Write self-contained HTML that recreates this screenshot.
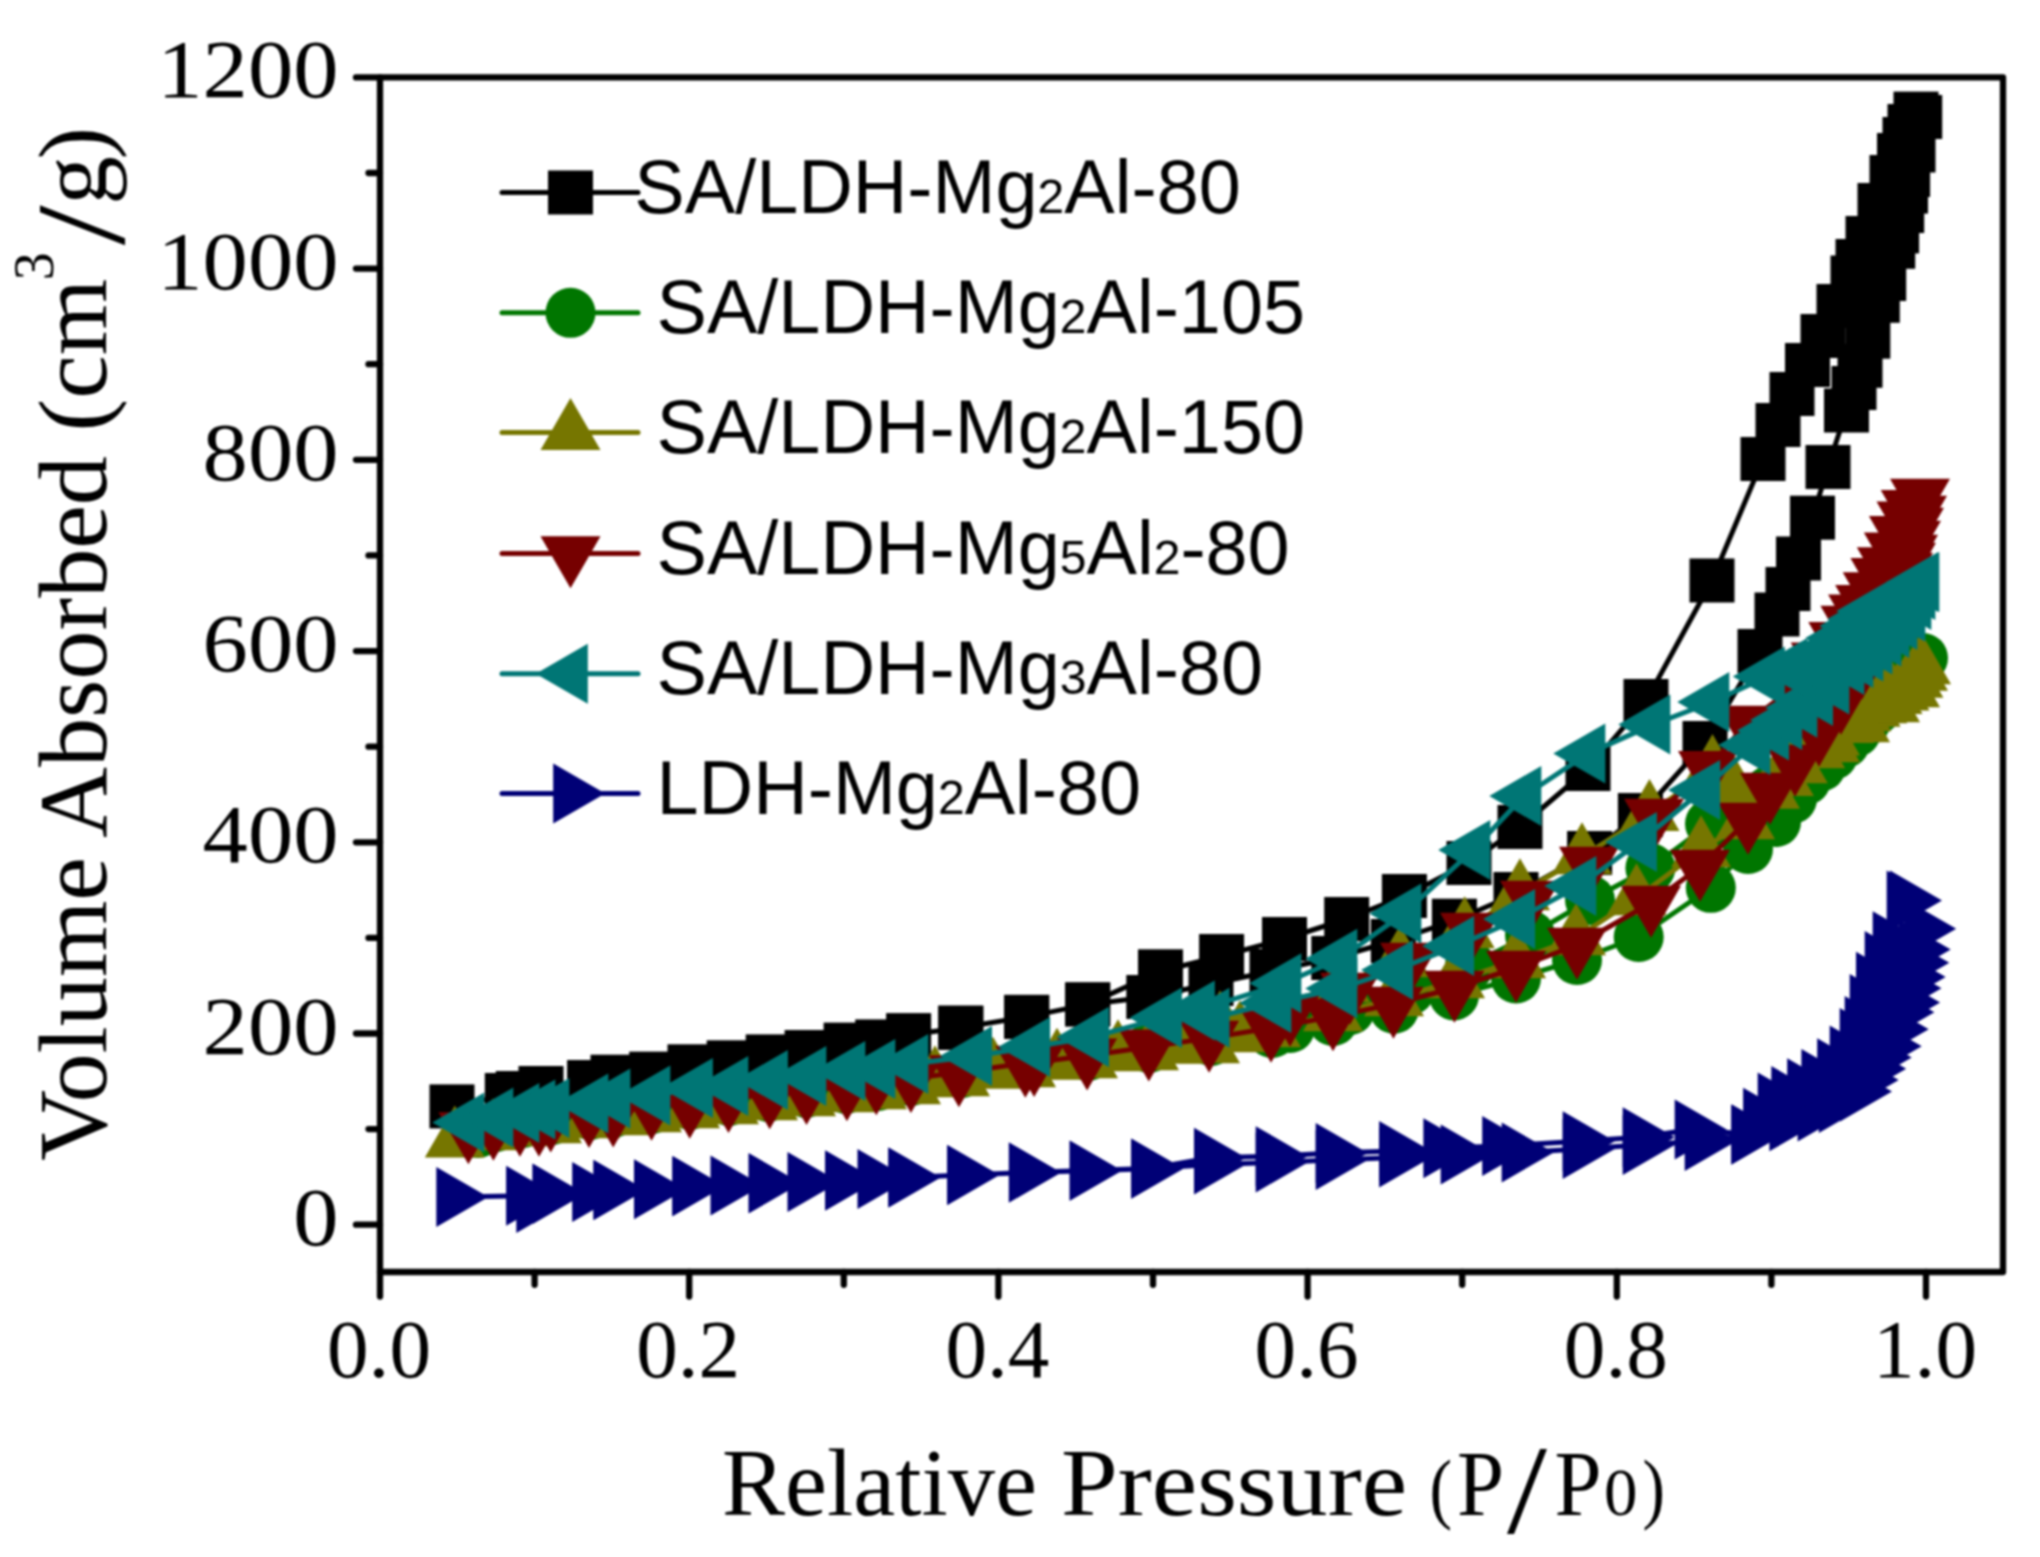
<!DOCTYPE html><html><head><meta charset="utf-8"><title>Isotherms</title><style>html,body{margin:0;padding:0;background:#fff;overflow:hidden}svg{display:block}body>div{filter:blur(1px)}</style></head><body>
<div><svg width="2040" height="1557" viewBox="0 0 2040 1557">
<rect width="2040" height="1557" fill="#fff"/>
<path d="M452 1106.4 L507.3 1095 L518.3 1093 L541 1088 L589.6 1082 L613 1076.7 L651.7 1073.6 L690 1066.3 L729.2 1062.3 L768.2 1056.4 L807.1 1052 L846.1 1044.6 L877.7 1041.4 L908.6 1035.1 L960.8 1027.7 L1026.7 1016.9 L1087.7 1004.4 L1148.8 997 L1211 984 L1272 971 L1333.8 958 L1393.3 941 L1454.4 920.7 L1516 894 L1589.6 853 L1640.4 815 L1705 743 L1760 651 L1777 614.5 L1788 589 L1798.5 558.5 L1812.5 517.7 L1828 467 L1846.5 410.5 L1854 388 L1860 365.8 L1867.8 336.7 L1877.3 300.8 L1883.7 279 L1892.7 246.8 L1896.6 231.4 L1901.7 211 L1905.5 191.6 L1907.6 175 L1913 150.5 L1919.7 117 L1916 113.6 L1910 126 L1905 139 L1899.5 155 L1892 177 L1880 205 L1868 238 L1858 261 L1853 277.5 L1839 306 L1823 336 L1807.5 365 L1792 394 L1778 425 L1763 459 L1712 580.5 L1646 701 L1588 769 L1520 827 L1469 863 L1404.4 896 L1346.7 919 L1284.5 939 L1221.6 956 L1160.5 971.3 L1087.7 1004.4 L1026.7 1016.9 L960.8 1027.7" fill="none" stroke="#000000" stroke-width="5" stroke-linejoin="round" stroke-linecap="round"/>
<g fill="#000000">
<rect x="429.5" y="1084.4" width="45" height="44"/>
<rect x="484.8" y="1073" width="45" height="44"/>
<rect x="495.8" y="1071" width="45" height="44"/>
<rect x="518.5" y="1066" width="45" height="44"/>
<rect x="567.1" y="1060" width="45" height="44"/>
<rect x="590.5" y="1054.7" width="45" height="44"/>
<rect x="629.2" y="1051.6" width="45" height="44"/>
<rect x="667.5" y="1044.3" width="45" height="44"/>
<rect x="706.7" y="1040.3" width="45" height="44"/>
<rect x="745.7" y="1034.4" width="45" height="44"/>
<rect x="784.6" y="1030" width="45" height="44"/>
<rect x="823.6" y="1022.6" width="45" height="44"/>
<rect x="855.2" y="1019.4" width="45" height="44"/>
<rect x="886.1" y="1013.1" width="45" height="44"/>
<rect x="938.3" y="1005.7" width="45" height="44"/>
<rect x="1004.2" y="994.9" width="45" height="44"/>
<rect x="1065.2" y="982.4" width="45" height="44"/>
<rect x="1126.3" y="975" width="45" height="44"/>
<rect x="1188.5" y="962" width="45" height="44"/>
<rect x="1249.5" y="949" width="45" height="44"/>
<rect x="1311.3" y="936" width="45" height="44"/>
<rect x="1370.8" y="919" width="45" height="44"/>
<rect x="1431.9" y="898.7" width="45" height="44"/>
<rect x="1493.5" y="872" width="45" height="44"/>
<rect x="1567.1" y="831" width="45" height="44"/>
<rect x="1617.9" y="793" width="45" height="44"/>
<rect x="1682.5" y="721" width="45" height="44"/>
<rect x="1737.5" y="629" width="45" height="44"/>
<rect x="1754.5" y="592.5" width="45" height="44"/>
<rect x="1765.5" y="567" width="45" height="44"/>
<rect x="1776" y="536.5" width="45" height="44"/>
<rect x="1790" y="495.7" width="45" height="44"/>
<rect x="1805.5" y="445" width="45" height="44"/>
<rect x="1824" y="388.5" width="45" height="44"/>
<rect x="1831.5" y="366" width="45" height="44"/>
<rect x="1837.5" y="343.8" width="45" height="44"/>
<rect x="1845.3" y="314.7" width="45" height="44"/>
<rect x="1854.8" y="278.8" width="45" height="44"/>
<rect x="1861.2" y="257" width="45" height="44"/>
<rect x="1870.2" y="224.8" width="45" height="44"/>
<rect x="1874.1" y="209.4" width="45" height="44"/>
<rect x="1879.2" y="189" width="45" height="44"/>
<rect x="1883" y="169.6" width="45" height="44"/>
<rect x="1885.1" y="153" width="45" height="44"/>
<rect x="1890.5" y="128.5" width="45" height="44"/>
<rect x="1897.2" y="95" width="45" height="44"/>
<rect x="1893.5" y="91.6" width="45" height="44"/>
<rect x="1887.5" y="104" width="45" height="44"/>
<rect x="1882.5" y="117" width="45" height="44"/>
<rect x="1877" y="133" width="45" height="44"/>
<rect x="1869.5" y="155" width="45" height="44"/>
<rect x="1857.5" y="183" width="45" height="44"/>
<rect x="1845.5" y="216" width="45" height="44"/>
<rect x="1835.5" y="239" width="45" height="44"/>
<rect x="1830.5" y="255.5" width="45" height="44"/>
<rect x="1816.5" y="284" width="45" height="44"/>
<rect x="1800.5" y="314" width="45" height="44"/>
<rect x="1785" y="343" width="45" height="44"/>
<rect x="1769.5" y="372" width="45" height="44"/>
<rect x="1755.5" y="403" width="45" height="44"/>
<rect x="1740.5" y="437" width="45" height="44"/>
<rect x="1689.5" y="558.5" width="45" height="44"/>
<rect x="1623.5" y="679" width="45" height="44"/>
<rect x="1565.5" y="747" width="45" height="44"/>
<rect x="1497.5" y="805" width="45" height="44"/>
<rect x="1446.5" y="841" width="45" height="44"/>
<rect x="1381.9" y="874" width="45" height="44"/>
<rect x="1324.2" y="897" width="45" height="44"/>
<rect x="1262" y="917" width="45" height="44"/>
<rect x="1199.1" y="934" width="45" height="44"/>
<rect x="1138" y="949.3" width="45" height="44"/>
<rect x="1065.2" y="982.4" width="45" height="44"/>
<rect x="1004.2" y="994.9" width="45" height="44"/>
<rect x="938.3" y="1005.7" width="45" height="44"/>
</g>
<path d="M478 1133 L496 1127 L523 1123 L552 1120 L590 1115 L613 1113 L652 1109 L690 1105 L729 1101 L768 1097 L806 1093 L846 1089 L878 1086 L911 1081 L962 1073 L1026 1064 L1088 1056 L1149 1048 L1211 1041 L1272 1033 L1333 1021 L1394 1008.7 L1454 995.4 L1516 978.5 L1577 960 L1638.7 937 L1710.8 887.8 L1748 849 L1776 822 L1792 799 L1806 780 L1821 766.5 L1833 755 L1845 743 L1856 732 L1866 721 L1876 710 L1886 699 L1896 688 L1905 678 L1913 669 L1923 658 L1900 675 L1870 700 L1840 725 L1800 760 L1770 790 L1710 823.8 L1650.4 868 L1590 900 L1530 935 L1470 965 L1410 990 L1350 1010 L1290 1028" fill="none" stroke="#007600" stroke-width="5" stroke-linejoin="round" stroke-linecap="round"/>
<g fill="#007600">
<circle cx="478" cy="1133" r="25"/>
<circle cx="496" cy="1127" r="25"/>
<circle cx="523" cy="1123" r="25"/>
<circle cx="552" cy="1120" r="25"/>
<circle cx="590" cy="1115" r="25"/>
<circle cx="613" cy="1113" r="25"/>
<circle cx="652" cy="1109" r="25"/>
<circle cx="690" cy="1105" r="25"/>
<circle cx="729" cy="1101" r="25"/>
<circle cx="768" cy="1097" r="25"/>
<circle cx="806" cy="1093" r="25"/>
<circle cx="846" cy="1089" r="25"/>
<circle cx="878" cy="1086" r="25"/>
<circle cx="911" cy="1081" r="25"/>
<circle cx="962" cy="1073" r="25"/>
<circle cx="1026" cy="1064" r="25"/>
<circle cx="1088" cy="1056" r="25"/>
<circle cx="1149" cy="1048" r="25"/>
<circle cx="1211" cy="1041" r="25"/>
<circle cx="1272" cy="1033" r="25"/>
<circle cx="1333" cy="1021" r="25"/>
<circle cx="1394" cy="1008.7" r="25"/>
<circle cx="1454" cy="995.4" r="25"/>
<circle cx="1516" cy="978.5" r="25"/>
<circle cx="1577" cy="960" r="25"/>
<circle cx="1638.7" cy="937" r="25"/>
<circle cx="1710.8" cy="887.8" r="25"/>
<circle cx="1748" cy="849" r="25"/>
<circle cx="1776" cy="822" r="25"/>
<circle cx="1792" cy="799" r="25"/>
<circle cx="1806" cy="780" r="25"/>
<circle cx="1821" cy="766.5" r="25"/>
<circle cx="1833" cy="755" r="25"/>
<circle cx="1845" cy="743" r="25"/>
<circle cx="1856" cy="732" r="25"/>
<circle cx="1866" cy="721" r="25"/>
<circle cx="1876" cy="710" r="25"/>
<circle cx="1886" cy="699" r="25"/>
<circle cx="1896" cy="688" r="25"/>
<circle cx="1905" cy="678" r="25"/>
<circle cx="1913" cy="669" r="25"/>
<circle cx="1923" cy="658" r="25"/>
<circle cx="1900" cy="675" r="25"/>
<circle cx="1870" cy="700" r="25"/>
<circle cx="1840" cy="725" r="25"/>
<circle cx="1800" cy="760" r="25"/>
<circle cx="1770" cy="790" r="25"/>
<circle cx="1710" cy="823.8" r="25"/>
<circle cx="1650.4" cy="868" r="25"/>
<circle cx="1590" cy="900" r="25"/>
<circle cx="1530" cy="935" r="25"/>
<circle cx="1470" cy="965" r="25"/>
<circle cx="1410" cy="990" r="25"/>
<circle cx="1350" cy="1010" r="25"/>
<circle cx="1290" cy="1028" r="25"/>
</g>
<path d="M454.8 1140.3 L493 1133 L520 1129 L552 1126 L590 1121 L620 1118 L652 1115 L690 1111 L729 1107 L768 1103 L806 1099 L846 1095 L877 1092 L911 1087 L960 1079 L1026 1070 L1088 1061 L1149 1053 L1210 1046 L1271 1030 L1333 1014 L1394 999 L1455 981 L1516 961 L1576 938 L1636.5 898 L1701 850 L1745 822 L1770 791.4 L1783.9 778.7 L1797.8 766 L1815.1 751 L1830.1 738.3 L1844 725.6 L1852.1 721 L1861.3 714 L1870.6 709.4 L1877.3 705.9 L1885.6 701.3 L1892.5 696.7 L1899.5 693.2 L1906.4 687.4 L1913.4 680.5 L1918 673.5 L1921 667 L1910 690 L1890 705 L1860 725 L1830 745 L1790 760 L1733.8 790 L1712.5 768.8 L1649.5 813.7 L1582 857 L1520 893 L1464.7 931 L1400 960 L1340 985 L1280 1005 L1220 1025 L1240 1035 L1180 1046.5 L1118 1054 L1057 1062.5 L993 1071.5 L935 1080" fill="none" stroke="#767600" stroke-width="5" stroke-linejoin="round" stroke-linecap="round"/>
<g fill="#767600">
<path d="M454.8 1105.6L484.8 1157.6L424.8 1157.6Z"/>
<path d="M493 1098.3L523 1150.3L463 1150.3Z"/>
<path d="M520 1094.3L550 1146.3L490 1146.3Z"/>
<path d="M552 1091.3L582 1143.3L522 1143.3Z"/>
<path d="M590 1086.3L620 1138.3L560 1138.3Z"/>
<path d="M620 1083.3L650 1135.3L590 1135.3Z"/>
<path d="M652 1080.3L682 1132.3L622 1132.3Z"/>
<path d="M690 1076.3L720 1128.3L660 1128.3Z"/>
<path d="M729 1072.3L759 1124.3L699 1124.3Z"/>
<path d="M768 1068.3L798 1120.3L738 1120.3Z"/>
<path d="M806 1064.3L836 1116.3L776 1116.3Z"/>
<path d="M846 1060.3L876 1112.3L816 1112.3Z"/>
<path d="M877 1057.3L907 1109.3L847 1109.3Z"/>
<path d="M911 1052.3L941 1104.3L881 1104.3Z"/>
<path d="M960 1044.3L990 1096.3L930 1096.3Z"/>
<path d="M1026 1035.3L1056 1087.3L996 1087.3Z"/>
<path d="M1088 1026.3L1118 1078.3L1058 1078.3Z"/>
<path d="M1149 1018.3L1179 1070.3L1119 1070.3Z"/>
<path d="M1210 1011.3L1240 1063.3L1180 1063.3Z"/>
<path d="M1271 995.3L1301 1047.3L1241 1047.3Z"/>
<path d="M1333 979.3L1363 1031.3L1303 1031.3Z"/>
<path d="M1394 964.3L1424 1016.3L1364 1016.3Z"/>
<path d="M1455 946.3L1485 998.3L1425 998.3Z"/>
<path d="M1516 926.3L1546 978.3L1486 978.3Z"/>
<path d="M1576 903.3L1606 955.3L1546 955.3Z"/>
<path d="M1636.5 863.3L1666.5 915.3L1606.5 915.3Z"/>
<path d="M1701 815.3L1731 867.3L1671 867.3Z"/>
<path d="M1745 787.3L1775 839.3L1715 839.3Z"/>
<path d="M1770 756.7L1800 808.7L1740 808.7Z"/>
<path d="M1783.9 744L1813.9 796L1753.9 796Z"/>
<path d="M1797.8 731.3L1827.8 783.3L1767.8 783.3Z"/>
<path d="M1815.1 716.3L1845.1 768.3L1785.1 768.3Z"/>
<path d="M1830.1 703.6L1860.1 755.6L1800.1 755.6Z"/>
<path d="M1844 690.9L1874 742.9L1814 742.9Z"/>
<path d="M1852.1 686.3L1882.1 738.3L1822.1 738.3Z"/>
<path d="M1861.3 679.3L1891.3 731.3L1831.3 731.3Z"/>
<path d="M1870.6 674.7L1900.6 726.7L1840.6 726.7Z"/>
<path d="M1877.3 671.2L1907.3 723.2L1847.3 723.2Z"/>
<path d="M1885.6 666.6L1915.6 718.6L1855.6 718.6Z"/>
<path d="M1892.5 662L1922.5 714L1862.5 714Z"/>
<path d="M1899.5 658.5L1929.5 710.5L1869.5 710.5Z"/>
<path d="M1906.4 652.7L1936.4 704.7L1876.4 704.7Z"/>
<path d="M1913.4 645.8L1943.4 697.8L1883.4 697.8Z"/>
<path d="M1918 638.8L1948 690.8L1888 690.8Z"/>
<path d="M1921 632.3L1951 684.3L1891 684.3Z"/>
<path d="M1910 655.3L1940 707.3L1880 707.3Z"/>
<path d="M1890 670.3L1920 722.3L1860 722.3Z"/>
<path d="M1860 690.3L1890 742.3L1830 742.3Z"/>
<path d="M1830 710.3L1860 762.3L1800 762.3Z"/>
<path d="M1790 725.3L1820 777.3L1760 777.3Z"/>
<path d="M1733.8 755.3L1763.8 807.3L1703.8 807.3Z"/>
<path d="M1712.5 734.1L1742.5 786.1L1682.5 786.1Z"/>
<path d="M1649.5 779L1679.5 831L1619.5 831Z"/>
<path d="M1582 822.3L1612 874.3L1552 874.3Z"/>
<path d="M1520 858.3L1550 910.3L1490 910.3Z"/>
<path d="M1464.7 896.3L1494.7 948.3L1434.7 948.3Z"/>
<path d="M1400 925.3L1430 977.3L1370 977.3Z"/>
<path d="M1340 950.3L1370 1002.3L1310 1002.3Z"/>
<path d="M1280 970.3L1310 1022.3L1250 1022.3Z"/>
<path d="M1220 990.3L1250 1042.3L1190 1042.3Z"/>
<path d="M1240 1000.3L1270 1052.3L1210 1052.3Z"/>
<path d="M1180 1011.8L1210 1063.8L1150 1063.8Z"/>
<path d="M1118 1019.3L1148 1071.3L1088 1071.3Z"/>
<path d="M1057 1027.8L1087 1079.8L1027 1079.8Z"/>
<path d="M993 1036.8L1023 1088.8L963 1088.8Z"/>
<path d="M935 1045.3L965 1097.3L905 1097.3Z"/>
</g>
<path d="M468.4 1129.6 L493.4 1126 L519.9 1122 L539 1122 L550.7 1117.8 L589 1113.3 L613.2 1112.7 L651.5 1106 L689.7 1104 L728.5 1098.2 L769.7 1094.6 L806.5 1090.2 L846.9 1086.5 L876.3 1080.6 L910.9 1078.4 L958.9 1072.6 L1025.3 1063.1 L1034.1 1062.4 L1087.1 1055.7 L1148.8 1046.9 L1209.1 1038.1 L1271 1028 L1333 1016.6 L1393.4 1004 L1454.4 988 L1516 968 L1577 945 L1651 903 L1700 867 L1748 820 L1770 790 L1795 762 L1819 732 L1841 700 L1862 665 L1872 645 L1881 630 L1890 612 L1896 595 L1900 582 L1903 570 L1906 560 L1908 552 L1911 538 L1914 525 L1917 513 L1920 496 L1910.7 507.3 L1906.5 518.7 L1898.9 533.4 L1893.8 549.9 L1886.8 564.6 L1880.4 575.4 L1872.7 589.5 L1865.1 602.2 L1858.1 611.7 L1850.4 623.1 L1838.3 639.2 L1820.7 659.7 L1790 690 L1747 723 L1708 768.3 L1654 816 L1589 864 L1530 898 L1470 930 L1410 960 L1350 990 L1290 1012" fill="none" stroke="#760000" stroke-width="5" stroke-linejoin="round" stroke-linecap="round"/>
<g fill="#760000">
<path d="M468.4 1164.3L498.4 1112.3L438.4 1112.3Z"/>
<path d="M493.4 1160.7L523.4 1108.7L463.4 1108.7Z"/>
<path d="M519.9 1156.7L549.9 1104.7L489.9 1104.7Z"/>
<path d="M539 1156.7L569 1104.7L509 1104.7Z"/>
<path d="M550.7 1152.5L580.7 1100.5L520.7 1100.5Z"/>
<path d="M589 1148L619 1096L559 1096Z"/>
<path d="M613.2 1147.4L643.2 1095.4L583.2 1095.4Z"/>
<path d="M651.5 1140.7L681.5 1088.7L621.5 1088.7Z"/>
<path d="M689.7 1138.7L719.7 1086.7L659.7 1086.7Z"/>
<path d="M728.5 1132.9L758.5 1080.9L698.5 1080.9Z"/>
<path d="M769.7 1129.3L799.7 1077.3L739.7 1077.3Z"/>
<path d="M806.5 1124.9L836.5 1072.9L776.5 1072.9Z"/>
<path d="M846.9 1121.2L876.9 1069.2L816.9 1069.2Z"/>
<path d="M876.3 1115.3L906.3 1063.3L846.3 1063.3Z"/>
<path d="M910.9 1113.1L940.9 1061.1L880.9 1061.1Z"/>
<path d="M958.9 1107.3L988.9 1055.3L928.9 1055.3Z"/>
<path d="M1025.3 1097.8L1055.3 1045.8L995.3 1045.8Z"/>
<path d="M1034.1 1097.1L1064.1 1045.1L1004.1 1045.1Z"/>
<path d="M1087.1 1090.4L1117.1 1038.4L1057.1 1038.4Z"/>
<path d="M1148.8 1081.6L1178.8 1029.6L1118.8 1029.6Z"/>
<path d="M1209.1 1072.8L1239.1 1020.8L1179.1 1020.8Z"/>
<path d="M1271 1062.7L1301 1010.7L1241 1010.7Z"/>
<path d="M1333 1051.3L1363 999.3L1303 999.3Z"/>
<path d="M1393.4 1038.7L1423.4 986.7L1363.4 986.7Z"/>
<path d="M1454.4 1022.7L1484.4 970.7L1424.4 970.7Z"/>
<path d="M1516 1002.7L1546 950.7L1486 950.7Z"/>
<path d="M1577 979.7L1607 927.7L1547 927.7Z"/>
<path d="M1651 937.7L1681 885.7L1621 885.7Z"/>
<path d="M1700 901.7L1730 849.7L1670 849.7Z"/>
<path d="M1748 854.7L1778 802.7L1718 802.7Z"/>
<path d="M1770 824.7L1800 772.7L1740 772.7Z"/>
<path d="M1795 796.7L1825 744.7L1765 744.7Z"/>
<path d="M1819 766.7L1849 714.7L1789 714.7Z"/>
<path d="M1841 734.7L1871 682.7L1811 682.7Z"/>
<path d="M1862 699.7L1892 647.7L1832 647.7Z"/>
<path d="M1872 679.7L1902 627.7L1842 627.7Z"/>
<path d="M1881 664.7L1911 612.7L1851 612.7Z"/>
<path d="M1890 646.7L1920 594.7L1860 594.7Z"/>
<path d="M1896 629.7L1926 577.7L1866 577.7Z"/>
<path d="M1900 616.7L1930 564.7L1870 564.7Z"/>
<path d="M1903 604.7L1933 552.7L1873 552.7Z"/>
<path d="M1906 594.7L1936 542.7L1876 542.7Z"/>
<path d="M1908 586.7L1938 534.7L1878 534.7Z"/>
<path d="M1911 572.7L1941 520.7L1881 520.7Z"/>
<path d="M1914 559.7L1944 507.7L1884 507.7Z"/>
<path d="M1917 547.7L1947 495.7L1887 495.7Z"/>
<path d="M1920 530.7L1950 478.7L1890 478.7Z"/>
<path d="M1910.7 542L1940.7 490L1880.7 490Z"/>
<path d="M1906.5 553.4L1936.5 501.4L1876.5 501.4Z"/>
<path d="M1898.9 568.1L1928.9 516.1L1868.9 516.1Z"/>
<path d="M1893.8 584.6L1923.8 532.6L1863.8 532.6Z"/>
<path d="M1886.8 599.3L1916.8 547.3L1856.8 547.3Z"/>
<path d="M1880.4 610.1L1910.4 558.1L1850.4 558.1Z"/>
<path d="M1872.7 624.2L1902.7 572.2L1842.7 572.2Z"/>
<path d="M1865.1 636.9L1895.1 584.9L1835.1 584.9Z"/>
<path d="M1858.1 646.4L1888.1 594.4L1828.1 594.4Z"/>
<path d="M1850.4 657.8L1880.4 605.8L1820.4 605.8Z"/>
<path d="M1838.3 673.9L1868.3 621.9L1808.3 621.9Z"/>
<path d="M1820.7 694.4L1850.7 642.4L1790.7 642.4Z"/>
<path d="M1790 724.7L1820 672.7L1760 672.7Z"/>
<path d="M1747 757.7L1777 705.7L1717 705.7Z"/>
<path d="M1708 803L1738 751L1678 751Z"/>
<path d="M1654 850.7L1684 798.7L1624 798.7Z"/>
<path d="M1589 898.7L1619 846.7L1559 846.7Z"/>
<path d="M1530 932.7L1560 880.7L1500 880.7Z"/>
<path d="M1470 964.7L1500 912.7L1440 912.7Z"/>
<path d="M1410 994.7L1440 942.7L1380 942.7Z"/>
<path d="M1350 1024.7L1380 972.7L1320 972.7Z"/>
<path d="M1290 1046.7L1320 994.7L1260 994.7Z"/>
</g>
<path d="M467 1122.6 L496 1117.6 L522 1113 L538 1109.5 L552 1108 L591 1103.6 L613 1098.5 L653 1095.5 L695.6 1088 L731 1086 L770.6 1080 L809 1076 L848 1071 L878 1069 L911 1064 L974.7 1056 L1032.8 1047 L1091.6 1037 L1164.4 1017.7 L1212.2 1017.7 L1274 1003 L1340 988.5 L1395.8 970 L1456.8 946 L1517.8 919 L1579 886 L1639.6 842 L1702.8 790 L1753 745 L1771.7 730.5 L1784.8 720 L1800 707.7 L1815.7 696 L1832 684.5 L1847 665 L1856 658 L1866 651.5 L1875 644.6 L1884 636.4 L1892 628 L1900 620 L1908 611.7 L1914 600 L1918 590 L1922 582 L1921 582 L1910 590 L1898 598 L1886 605 L1871 611 L1862 619 L1854 626 L1840 638 L1822.6 653 L1806 662 L1790 668 L1767.5 676.5 L1712 702 L1653 724.6 L1588 753.6 L1524 796 L1473 850 L1404 913.4 L1340 958.8 L1284 983.3 L1197.5 1010.4 L1164.4 1017.7 L1091.6 1037" fill="none" stroke="#007675" stroke-width="5" stroke-linejoin="round" stroke-linecap="round"/>
<g fill="#007675">
<path d="M432.3 1122.6L484.3 1092.6L484.3 1152.6Z"/>
<path d="M461.3 1117.6L513.3 1087.6L513.3 1147.6Z"/>
<path d="M487.3 1113L539.3 1083L539.3 1143Z"/>
<path d="M503.3 1109.5L555.3 1079.5L555.3 1139.5Z"/>
<path d="M517.3 1108L569.3 1078L569.3 1138Z"/>
<path d="M556.3 1103.6L608.3 1073.6L608.3 1133.6Z"/>
<path d="M578.3 1098.5L630.3 1068.5L630.3 1128.5Z"/>
<path d="M618.3 1095.5L670.3 1065.5L670.3 1125.5Z"/>
<path d="M660.9 1088L712.9 1058L712.9 1118Z"/>
<path d="M696.3 1086L748.3 1056L748.3 1116Z"/>
<path d="M735.9 1080L787.9 1050L787.9 1110Z"/>
<path d="M774.3 1076L826.3 1046L826.3 1106Z"/>
<path d="M813.3 1071L865.3 1041L865.3 1101Z"/>
<path d="M843.3 1069L895.3 1039L895.3 1099Z"/>
<path d="M876.3 1064L928.3 1034L928.3 1094Z"/>
<path d="M940 1056L992 1026L992 1086Z"/>
<path d="M998.1 1047L1050.1 1017L1050.1 1077Z"/>
<path d="M1056.9 1037L1108.9 1007L1108.9 1067Z"/>
<path d="M1129.7 1017.7L1181.7 987.7L1181.7 1047.7Z"/>
<path d="M1177.5 1017.7L1229.5 987.7L1229.5 1047.7Z"/>
<path d="M1239.3 1003L1291.3 973L1291.3 1033Z"/>
<path d="M1305.3 988.5L1357.3 958.5L1357.3 1018.5Z"/>
<path d="M1361.1 970L1413.1 940L1413.1 1000Z"/>
<path d="M1422.1 946L1474.1 916L1474.1 976Z"/>
<path d="M1483.1 919L1535.1 889L1535.1 949Z"/>
<path d="M1544.3 886L1596.3 856L1596.3 916Z"/>
<path d="M1604.9 842L1656.9 812L1656.9 872Z"/>
<path d="M1668.1 790L1720.1 760L1720.1 820Z"/>
<path d="M1718.3 745L1770.3 715L1770.3 775Z"/>
<path d="M1737 730.5L1789 700.5L1789 760.5Z"/>
<path d="M1750.1 720L1802.1 690L1802.1 750Z"/>
<path d="M1765.3 707.7L1817.3 677.7L1817.3 737.7Z"/>
<path d="M1781 696L1833 666L1833 726Z"/>
<path d="M1797.3 684.5L1849.3 654.5L1849.3 714.5Z"/>
<path d="M1812.3 665L1864.3 635L1864.3 695Z"/>
<path d="M1821.3 658L1873.3 628L1873.3 688Z"/>
<path d="M1831.3 651.5L1883.3 621.5L1883.3 681.5Z"/>
<path d="M1840.3 644.6L1892.3 614.6L1892.3 674.6Z"/>
<path d="M1849.3 636.4L1901.3 606.4L1901.3 666.4Z"/>
<path d="M1857.3 628L1909.3 598L1909.3 658Z"/>
<path d="M1865.3 620L1917.3 590L1917.3 650Z"/>
<path d="M1873.3 611.7L1925.3 581.7L1925.3 641.7Z"/>
<path d="M1879.3 600L1931.3 570L1931.3 630Z"/>
<path d="M1883.3 590L1935.3 560L1935.3 620Z"/>
<path d="M1887.3 582L1939.3 552L1939.3 612Z"/>
<path d="M1886.3 582L1938.3 552L1938.3 612Z"/>
<path d="M1875.3 590L1927.3 560L1927.3 620Z"/>
<path d="M1863.3 598L1915.3 568L1915.3 628Z"/>
<path d="M1851.3 605L1903.3 575L1903.3 635Z"/>
<path d="M1836.3 611L1888.3 581L1888.3 641Z"/>
<path d="M1827.3 619L1879.3 589L1879.3 649Z"/>
<path d="M1819.3 626L1871.3 596L1871.3 656Z"/>
<path d="M1805.3 638L1857.3 608L1857.3 668Z"/>
<path d="M1787.9 653L1839.9 623L1839.9 683Z"/>
<path d="M1771.3 662L1823.3 632L1823.3 692Z"/>
<path d="M1755.3 668L1807.3 638L1807.3 698Z"/>
<path d="M1732.8 676.5L1784.8 646.5L1784.8 706.5Z"/>
<path d="M1677.3 702L1729.3 672L1729.3 732Z"/>
<path d="M1618.3 724.6L1670.3 694.6L1670.3 754.6Z"/>
<path d="M1553.3 753.6L1605.3 723.6L1605.3 783.6Z"/>
<path d="M1489.3 796L1541.3 766L1541.3 826Z"/>
<path d="M1438.3 850L1490.3 820L1490.3 880Z"/>
<path d="M1369.3 913.4L1421.3 883.4L1421.3 943.4Z"/>
<path d="M1305.3 958.8L1357.3 928.8L1357.3 988.8Z"/>
<path d="M1249.3 983.3L1301.3 953.3L1301.3 1013.3Z"/>
<path d="M1162.8 1010.4L1214.8 980.4L1214.8 1040.4Z"/>
<path d="M1129.7 1017.7L1181.7 987.7L1181.7 1047.7Z"/>
<path d="M1056.9 1037L1108.9 1007L1108.9 1067Z"/>
</g>
<path d="M453.6 1197 L523.4 1195.7 L549.8 1193.6 L589.5 1191.9 L610.7 1190 L651.3 1189.2 L689.5 1186.3 L727.8 1185.4 L766 1183.3 L804.8 1181.9 L842.5 1180.4 L874.8 1178.9 L905.7 1177.4 L964.5 1175 L1026.2 1172.5 L1087 1170.5 L1148.5 1168.5 L1211.3 1164.5 L1273 1162.5 L1333 1160 L1396.4 1157.5 L1458 1154.5 L1519 1152.5 L1580 1149 L1640 1145 L1702 1141 L1748.5 1134.7 L1786.7 1121.3 L1814.9 1111.4 L1836.1 1102.9 L1857.3 1091.6 L1864 1080 L1871.5 1068.8 L1877 1057.5 L1887 1046.2 L1894 1029.2 L1899.7 1012.3 L1905.4 1002.4 L1906.8 988.3 L1911 977 L1914.6 962.8 L1916 949.6 L1921.5 928.8 L1907.3 900.4 L1904 900.4 L1890 941.3 L1882 961 L1873.3 981.7 L1867 1004 L1862 1026 L1857 1038 L1847 1055.5 L1834.5 1068.2 L1818.7 1079 L1804.5 1088.3 L1788.6 1096 L1775 1102.5 L1760.4 1117.8 L1748.8 1134.2 L1692 1129.5 L1640 1137.3 L1580 1141.3 L1499.5 1146 L1440.7 1148.3 L1396.4 1151 L1333 1153 L1273 1156.2 L1211.3 1157.7 L1148.5 1168.7 L1087 1170.7 L1026.2 1172.6 L964.5 1175 L905.7 1177.4 L842.5 1180.4 L766 1183.3 L690 1186 L611 1190 L550 1194 L533.6 1203" fill="none" stroke="#000076" stroke-width="5" stroke-linejoin="round" stroke-linecap="round"/>
<g fill="#000076">
<path d="M488.3 1197L436.3 1167L436.3 1227Z"/>
<path d="M558.1 1195.7L506.1 1165.7L506.1 1225.7Z"/>
<path d="M584.5 1193.6L532.5 1163.6L532.5 1223.6Z"/>
<path d="M624.2 1191.9L572.2 1161.9L572.2 1221.9Z"/>
<path d="M645.4 1190L593.4 1160L593.4 1220Z"/>
<path d="M686 1189.2L634 1159.2L634 1219.2Z"/>
<path d="M724.2 1186.3L672.2 1156.3L672.2 1216.3Z"/>
<path d="M762.5 1185.4L710.5 1155.4L710.5 1215.4Z"/>
<path d="M800.7 1183.3L748.7 1153.3L748.7 1213.3Z"/>
<path d="M839.5 1181.9L787.5 1151.9L787.5 1211.9Z"/>
<path d="M877.2 1180.4L825.2 1150.4L825.2 1210.4Z"/>
<path d="M909.5 1178.9L857.5 1148.9L857.5 1208.9Z"/>
<path d="M940.4 1177.4L888.4 1147.4L888.4 1207.4Z"/>
<path d="M999.2 1175L947.2 1145L947.2 1205Z"/>
<path d="M1060.9 1172.5L1008.9 1142.5L1008.9 1202.5Z"/>
<path d="M1121.7 1170.5L1069.7 1140.5L1069.7 1200.5Z"/>
<path d="M1183.2 1168.5L1131.2 1138.5L1131.2 1198.5Z"/>
<path d="M1246 1164.5L1194 1134.5L1194 1194.5Z"/>
<path d="M1307.7 1162.5L1255.7 1132.5L1255.7 1192.5Z"/>
<path d="M1367.7 1160L1315.7 1130L1315.7 1190Z"/>
<path d="M1431.1 1157.5L1379.1 1127.5L1379.1 1187.5Z"/>
<path d="M1492.7 1154.5L1440.7 1124.5L1440.7 1184.5Z"/>
<path d="M1553.7 1152.5L1501.7 1122.5L1501.7 1182.5Z"/>
<path d="M1614.7 1149L1562.7 1119L1562.7 1179Z"/>
<path d="M1674.7 1145L1622.7 1115L1622.7 1175Z"/>
<path d="M1736.7 1141L1684.7 1111L1684.7 1171Z"/>
<path d="M1783.2 1134.7L1731.2 1104.7L1731.2 1164.7Z"/>
<path d="M1821.4 1121.3L1769.4 1091.3L1769.4 1151.3Z"/>
<path d="M1849.6 1111.4L1797.6 1081.4L1797.6 1141.4Z"/>
<path d="M1870.8 1102.9L1818.8 1072.9L1818.8 1132.9Z"/>
<path d="M1892 1091.6L1840 1061.6L1840 1121.6Z"/>
<path d="M1898.7 1080L1846.7 1050L1846.7 1110Z"/>
<path d="M1906.2 1068.8L1854.2 1038.8L1854.2 1098.8Z"/>
<path d="M1911.7 1057.5L1859.7 1027.5L1859.7 1087.5Z"/>
<path d="M1921.7 1046.2L1869.7 1016.2L1869.7 1076.2Z"/>
<path d="M1928.7 1029.2L1876.7 999.2L1876.7 1059.2Z"/>
<path d="M1934.4 1012.3L1882.4 982.3L1882.4 1042.3Z"/>
<path d="M1940.1 1002.4L1888.1 972.4L1888.1 1032.4Z"/>
<path d="M1941.5 988.3L1889.5 958.3L1889.5 1018.3Z"/>
<path d="M1945.7 977L1893.7 947L1893.7 1007Z"/>
<path d="M1949.3 962.8L1897.3 932.8L1897.3 992.8Z"/>
<path d="M1950.7 949.6L1898.7 919.6L1898.7 979.6Z"/>
<path d="M1956.2 928.8L1904.2 898.8L1904.2 958.8Z"/>
<path d="M1942 900.4L1890 870.4L1890 930.4Z"/>
<path d="M1938.7 900.4L1886.7 870.4L1886.7 930.4Z"/>
<path d="M1924.7 941.3L1872.7 911.3L1872.7 971.3Z"/>
<path d="M1916.7 961L1864.7 931L1864.7 991Z"/>
<path d="M1908 981.7L1856 951.7L1856 1011.7Z"/>
<path d="M1901.7 1004L1849.7 974L1849.7 1034Z"/>
<path d="M1896.7 1026L1844.7 996L1844.7 1056Z"/>
<path d="M1891.7 1038L1839.7 1008L1839.7 1068Z"/>
<path d="M1881.7 1055.5L1829.7 1025.5L1829.7 1085.5Z"/>
<path d="M1869.2 1068.2L1817.2 1038.2L1817.2 1098.2Z"/>
<path d="M1853.4 1079L1801.4 1049L1801.4 1109Z"/>
<path d="M1839.2 1088.3L1787.2 1058.3L1787.2 1118.3Z"/>
<path d="M1823.3 1096L1771.3 1066L1771.3 1126Z"/>
<path d="M1809.7 1102.5L1757.7 1072.5L1757.7 1132.5Z"/>
<path d="M1795.1 1117.8L1743.1 1087.8L1743.1 1147.8Z"/>
<path d="M1783.5 1134.2L1731.5 1104.2L1731.5 1164.2Z"/>
<path d="M1726.7 1129.5L1674.7 1099.5L1674.7 1159.5Z"/>
<path d="M1674.7 1137.3L1622.7 1107.3L1622.7 1167.3Z"/>
<path d="M1614.7 1141.3L1562.7 1111.3L1562.7 1171.3Z"/>
<path d="M1534.2 1146L1482.2 1116L1482.2 1176Z"/>
<path d="M1475.4 1148.3L1423.4 1118.3L1423.4 1178.3Z"/>
<path d="M1431.1 1151L1379.1 1121L1379.1 1181Z"/>
<path d="M1367.7 1153L1315.7 1123L1315.7 1183Z"/>
<path d="M1307.7 1156.2L1255.7 1126.2L1255.7 1186.2Z"/>
<path d="M1246 1157.7L1194 1127.7L1194 1187.7Z"/>
<path d="M1183.2 1168.7L1131.2 1138.7L1131.2 1198.7Z"/>
<path d="M1121.7 1170.7L1069.7 1140.7L1069.7 1200.7Z"/>
<path d="M1060.9 1172.6L1008.9 1142.6L1008.9 1202.6Z"/>
<path d="M999.2 1175L947.2 1145L947.2 1205Z"/>
<path d="M940.4 1177.4L888.4 1147.4L888.4 1207.4Z"/>
<path d="M877.2 1180.4L825.2 1150.4L825.2 1210.4Z"/>
<path d="M800.7 1183.3L748.7 1153.3L748.7 1213.3Z"/>
<path d="M724.7 1186L672.7 1156L672.7 1216Z"/>
<path d="M645.7 1190L593.7 1160L593.7 1220Z"/>
<path d="M584.7 1194L532.7 1164L532.7 1224Z"/>
<path d="M568.3 1203L516.3 1173L516.3 1233Z"/>
</g>
<g stroke="#000" stroke-width="6.3" stroke-linecap="round" fill="none">
<path d="M380 77.4 H2003 V1272 H380 Z" stroke-linejoin="round"/>
<path d="M356 1224.7 H380"/>
<path d="M368.5 1129.1 H380"/>
<path d="M356 1033.5 H380"/>
<path d="M368.5 937.9 H380"/>
<path d="M356 842.3 H380"/>
<path d="M368.5 746.7 H380"/>
<path d="M356 651.1 H380"/>
<path d="M368.5 555.4 H380"/>
<path d="M356 459.8 H380"/>
<path d="M368.5 364.2 H380"/>
<path d="M356 268.6 H380"/>
<path d="M368.5 173 H380"/>
<path d="M356 77.4 H380"/>
<path d="M380 1272 V1296.6"/>
<path d="M534.6 1272 V1284.8"/>
<path d="M689.2 1272 V1296.6"/>
<path d="M843.8 1272 V1284.8"/>
<path d="M998.4 1272 V1296.6"/>
<path d="M1153 1272 V1284.8"/>
<path d="M1307.6 1272 V1296.6"/>
<path d="M1462.2 1272 V1284.8"/>
<path d="M1616.8 1272 V1296.6"/>
<path d="M1771.4 1272 V1284.8"/>
<path d="M1926 1272 V1296.6"/>
</g>
<g font-family="Liberation Serif, serif" font-size="82" fill="#000">
<text x="338.5" y="1244.7" text-anchor="end" textLength="45.3" lengthAdjust="spacingAndGlyphs">0</text>
<text x="338.5" y="1053.5" text-anchor="end" textLength="135.9" lengthAdjust="spacingAndGlyphs">200</text>
<text x="338.5" y="862.3" text-anchor="end" textLength="135.9" lengthAdjust="spacingAndGlyphs">400</text>
<text x="338.5" y="671.1" text-anchor="end" textLength="135.9" lengthAdjust="spacingAndGlyphs">600</text>
<text x="338.5" y="479.8" text-anchor="end" textLength="135.9" lengthAdjust="spacingAndGlyphs">800</text>
<text x="338.5" y="288.6" text-anchor="end" textLength="181.2" lengthAdjust="spacingAndGlyphs">1000</text>
<text x="338.5" y="97.4" text-anchor="end" textLength="181.2" lengthAdjust="spacingAndGlyphs">1200</text>
<text x="379" y="1377" text-anchor="middle" textLength="104" lengthAdjust="spacingAndGlyphs">0.0</text>
<text x="688.2" y="1377" text-anchor="middle" textLength="104" lengthAdjust="spacingAndGlyphs">0.2</text>
<text x="997.4" y="1377" text-anchor="middle" textLength="104" lengthAdjust="spacingAndGlyphs">0.4</text>
<text x="1306.6" y="1377" text-anchor="middle" textLength="104" lengthAdjust="spacingAndGlyphs">0.6</text>
<text x="1615.8" y="1377" text-anchor="middle" textLength="104" lengthAdjust="spacingAndGlyphs">0.8</text>
<text x="1925" y="1377" text-anchor="middle" textLength="104" lengthAdjust="spacingAndGlyphs">1.0</text>
</g>
<g font-family="Liberation Serif, serif" fill="#000">
<text x="722" y="1515" font-size="96" textLength="315" lengthAdjust="spacingAndGlyphs">Relative</text>
<text x="1061" y="1515" font-size="96" textLength="346" lengthAdjust="spacingAndGlyphs">Pressure</text>
<text x="1429.5" y="1514" font-size="78" textLength="22.5" lengthAdjust="spacingAndGlyphs">(</text>
<text x="1457" y="1515" font-size="94" textLength="47" lengthAdjust="spacingAndGlyphs">P</text>
<text x="1507" y="1533" font-size="127" textLength="40" lengthAdjust="spacingAndGlyphs">/</text>
<text x="1554.5" y="1515" font-size="94" textLength="47" lengthAdjust="spacingAndGlyphs">P</text>
<text x="1604" y="1515" font-size="67">0</text>
<text x="1642.5" y="1514" font-size="78" textLength="22.5" lengthAdjust="spacingAndGlyphs">)</text>
</g>
<g font-family="Liberation Serif, serif" fill="#000" transform="translate(106.3 1160.8) rotate(-90)">
<text x="0" y="0" font-size="97" textLength="882" lengthAdjust="spacingAndGlyphs">Volume Absorbed (cm</text>
<text x="880.5" y="-53" font-size="56">3</text>
<text x="915.5" y="18" font-size="126" textLength="40" lengthAdjust="spacingAndGlyphs">/</text>
<text x="956" y="0" font-size="97">g</text>
<text x="1001.5" y="0" font-size="97">)</text>
</g>
<path d="M502 192.5 H638" stroke="#000" stroke-width="5" stroke-linecap="round"/>
<g fill="#000"><rect x="548" y="170.5" width="45" height="44"/></g>
<text x="634.3" y="212.5" font-family="Liberation Sans, sans-serif" font-size="75.6" fill="#000">SA/LDH-Mg<tspan font-size="48">2</tspan>Al-80</text>
<path d="M502 312.8 H638" stroke="#007600" stroke-width="5" stroke-linecap="round"/>
<g fill="#007600"><circle cx="570.5" cy="312.8" r="25"/></g>
<text x="656.5" y="332.8" font-family="Liberation Sans, sans-serif" font-size="75.6" fill="#000">SA/LDH-Mg<tspan font-size="48">2</tspan>Al-105</text>
<path d="M502 432.6 H638" stroke="#767600" stroke-width="5" stroke-linecap="round"/>
<g fill="#767600"><path d="M570.5 397.9L600.5 449.9L540.5 449.9Z"/></g>
<text x="656.5" y="452.6" font-family="Liberation Sans, sans-serif" font-size="75.6" fill="#000">SA/LDH-Mg<tspan font-size="48">2</tspan>Al-150</text>
<path d="M502 553.5 H638" stroke="#760000" stroke-width="5" stroke-linecap="round"/>
<g fill="#760000"><path d="M570.5 588.2L600.5 536.2L540.5 536.2Z"/></g>
<text x="656.5" y="573.5" font-family="Liberation Sans, sans-serif" font-size="75.6" fill="#000">SA/LDH-Mg<tspan font-size="48">5</tspan>Al<tspan font-size="48">2</tspan>-80</text>
<path d="M502 673.7 H638" stroke="#007675" stroke-width="5" stroke-linecap="round"/>
<g fill="#007675"><path d="M535.8 673.7L587.8 643.7L587.8 703.7Z"/></g>
<text x="656.5" y="693.7" font-family="Liberation Sans, sans-serif" font-size="75.6" fill="#000">SA/LDH-Mg<tspan font-size="48">3</tspan>Al-80</text>
<path d="M502 793.5 H638" stroke="#000076" stroke-width="5" stroke-linecap="round"/>
<g fill="#000076"><path d="M605.2 793.5L553.2 763.5L553.2 823.5Z"/></g>
<text x="656.5" y="813.5" font-family="Liberation Sans, sans-serif" font-size="75.6" fill="#000">LDH-Mg<tspan font-size="48">2</tspan>Al-80</text>
</svg></div></body></html>
